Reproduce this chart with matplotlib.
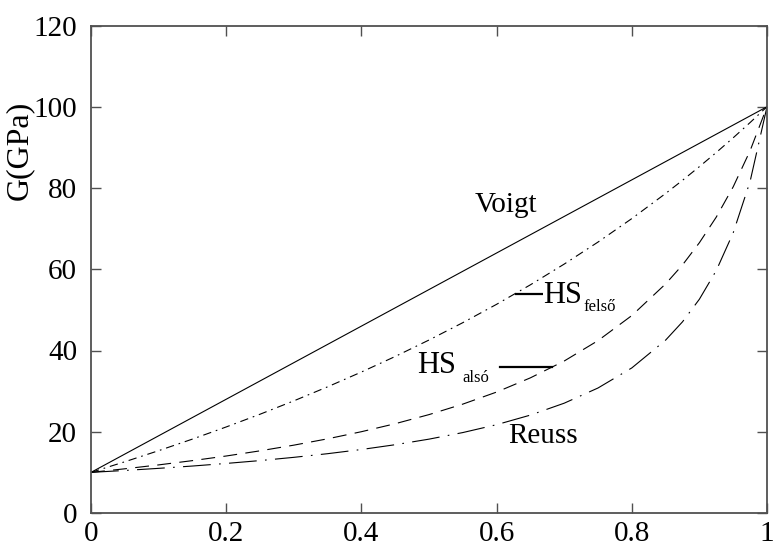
import matplotlib
matplotlib.use("Agg")
import matplotlib.pyplot as plt

# Volume fraction of the stiff phase and the shear-modulus bounds (GPa)
frac = [0.0, 0.05, 0.1, 0.15, 0.2, 0.25, 0.3, 0.35, 0.4, 0.45, 0.5, 0.55,
        0.6, 0.65, 0.7, 0.75, 0.8, 0.85, 0.875, 0.9, 0.925, 0.95, 0.975, 1.0]
voigt_x = [0.0, 1.0]
voigt_g = [10.0, 100.0]
hs_upper = [10.0, 12.61, 15.34, 18.19, 21.18, 24.31, 27.60, 31.06, 34.70,
            38.53, 42.58, 46.85, 51.37, 56.17, 61.27, 66.69, 72.47, 78.65,
            81.89, 85.26, 88.75, 92.36, 96.11, 100.0]
hs_lower = [10.0, 10.88, 11.84, 12.89, 14.03, 15.30, 16.70, 18.26, 20.01,
            21.98, 24.22, 26.80, 29.77, 33.27, 37.41, 42.43, 48.60, 56.39,
            61.06, 66.54, 72.85, 80.29, 89.18, 100.0]
reuss = [10.0, 10.47, 10.99, 11.56, 12.20, 12.90, 13.70, 14.60, 15.63,
         16.81, 18.18, 19.80, 21.74, 24.10, 27.03, 30.77, 35.71, 42.55,
         47.06, 52.63, 59.70, 68.97, 81.63, 100.0]

x_ticks = [0, 0.2, 0.4, 0.6, 0.8, 1.0]
x_tick_labels = ["0", "0.2", "0.4", "0.6", "0.8", "1"]
y_ticks = [0, 20, 40, 60, 80, 100, 120]
y_tick_labels = ["0", "20", "40", "60", "80", "100", "120"]

plt.rcParams["font.family"] = ["Liberation Serif", "DejaVu Serif"]
plt.rcParams["lines.scale_dashes"] = False

fig = plt.figure(figsize=(7.78, 5.49), dpi=100)
ax = fig.add_axes([91 / 778, 1 - 513 / 549, 676 / 778, 487.5 / 549])

ax.plot(voigt_x, voigt_g, color="black", lw=0.8, solid_capstyle="butt")
ax.plot(frac, hs_upper, color="black", lw=0.8,
        linestyle=(0, (6, 3.5, 1.2, 3.5)))
ax.plot(frac, hs_lower, color="black", lw=0.8,
        linestyle=(0, (10, 6)))
ax.plot(frac, reuss, color="black", lw=0.8,
        linestyle=(0, (20, 6, 1.2, 6)))

ax.set_xlim(0, 1)
ax.set_ylim(0, 120)
ax.set_xticks(x_ticks)
ax.set_xticklabels(x_tick_labels)
ax.set_yticks(y_ticks)
ax.set_yticklabels(y_tick_labels)
ax.tick_params(direction="in", length=7.2, width=1.0, color="#505050",
               top=True, right=True, labelsize=21)
ax.tick_params(axis="x", pad=6)
ax.tick_params(axis="y", pad=10)
for sp in ax.spines.values():
    sp.set_color("#505050")
    sp.set_linewidth(1.3)

ax.set_ylabel("G(GPa)", fontsize=23)
ax.yaxis.set_label_coords(-0.084, 0.743)

# Curve labels
ax.text(0.568, 74.0, "Voigt", fontsize=21, ha="left", va="baseline")
ax.text(0.617, 17.2, "Reuss", fontsize=21, ha="left", va="baseline")

ax.plot([0.629, 0.667], [53.8, 53.8], color="black", lw=1.6)
ax.text(0.669, 51.6, "HS", fontsize=22, ha="left", va="baseline",
        bbox=dict(facecolor="white", edgecolor="none", pad=0.5), zorder=5)
ax.text(0.728, 49.7, "felső", fontsize=12, ha="left", va="baseline", zorder=5)

ax.plot([0.605, 0.682], [35.9, 35.9], color="black", lw=1.6)
ax.text(0.482, 34.4, "HS", fontsize=22, ha="left", va="baseline",
        bbox=dict(facecolor="white", edgecolor="none", pad=0.5), zorder=5)
ax.text(0.549, 32.2, "alsó", fontsize=12, ha="left", va="baseline", zorder=5)

fig.savefig("out.png", dpi=100)
